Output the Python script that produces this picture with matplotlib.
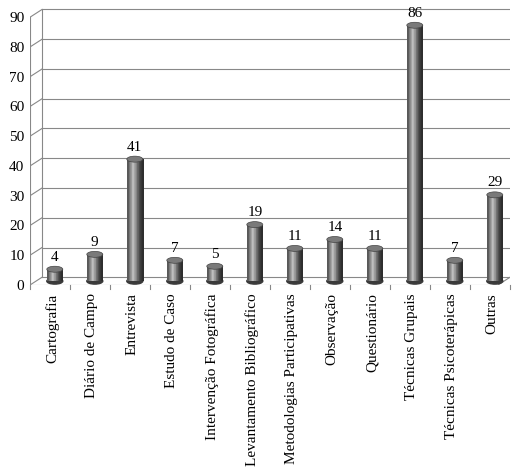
import numpy as np
import matplotlib
matplotlib.use("Agg")
import matplotlib.pyplot as plt
from matplotlib.patches import Rectangle, Ellipse

categorias = ["Cartografia", "Diário de Campo", "Entrevista", "Estudo de Caso",
              "Intervenção Fotográfica", "Levantamento Bibliográfico",
              "Metodologias Participativas", "Observação", "Questionário",
              "Técnicas Grupais", "Técnicas Psicoterápicas", "Outras"]
valores = [4, 9, 41, 7, 5, 19, 11, 14, 11, 86, 7, 29]

plt.rcParams["font.family"] = ["Liberation Serif", "DejaVu Serif"]

fig = plt.figure(figsize=(5.17, 4.74), dpi=100)
ax = fig.add_axes([30 / 517, 189 / 474, 480 / 517, 277 / 474])
n = len(categorias)
dx, dy = 0.3, 2.6
ax.set_xlim(-0.5, n - 0.5)
ax.set_ylim(0, 90 + dy + 0.5)
for s in ax.spines.values():
    s.set_visible(False)

# parede do fundo
for v in range(0, 100, 10):
    ax.plot([-0.5 + dx, n - 0.5], [v + dy, v + dy], color="#888888", lw=0.8)
    ax.plot([-0.5, -0.5 + dx], [v, v + dy], color="#888888", lw=0.8)
ax.plot([-0.5 + dx, -0.5 + dx], [dy, 90 + dy], color="#888888", lw=0.8)
ax.plot([-0.5, -0.5], [0, 90], color="#888888", lw=0.8)
ax.plot([-0.5, n - 0.5 - dx], [0, 0], color="#888888", lw=0.8)
ax.plot([n - 0.5 - dx, n - 0.5], [0, dy], color="#888888", lw=0.8)
for i in range(n + 1):
    ax.plot([i - 0.5, i - 0.5], [0, -1.5], color="#888888", lw=0.8, clip_on=False)

grad = np.array([[0.35, 0.55, 0.75, 0.6, 0.4, 0.25, 0.18]])
w = 0.4
eh = 2.0
for i, v in enumerate(valores):
    cx = i + dx / 2 - 0.03
    base = dy / 2
    rect = Rectangle((cx - w / 2, base), w, v, transform=ax.transData)
    im = ax.imshow(grad, cmap="gray", vmin=0, vmax=1, aspect="auto",
                   extent=(cx - w / 2, cx + w / 2, base, base + v), zorder=3)
    im.set_clip_path(rect)
    ax.add_patch(Ellipse((cx, base), w, eh, color="#3a3a3a", zorder=2.9))
    ax.add_patch(Ellipse((cx, base + v), w, eh, facecolor="#7a7a7a",
                         edgecolor="#444444", lw=0.5, zorder=4))
    ax.text(cx, base + v + 1.8, str(v), ha="center", va="bottom", fontsize=11, zorder=5)

ax.set_xlim(-0.5, n - 0.5)
ax.set_ylim(0, 90 + dy + 0.5)
ax.set_xticks(np.arange(n) + 0.05, categorias, rotation=90, fontsize=11)
ax.set_yticks(range(0, 100, 10))
ax.tick_params(length=0, labelsize=11)
ax.tick_params(axis="y", pad=4)
ax.tick_params(axis="x", pad=6)
fig.savefig("out.png", dpi=100)
